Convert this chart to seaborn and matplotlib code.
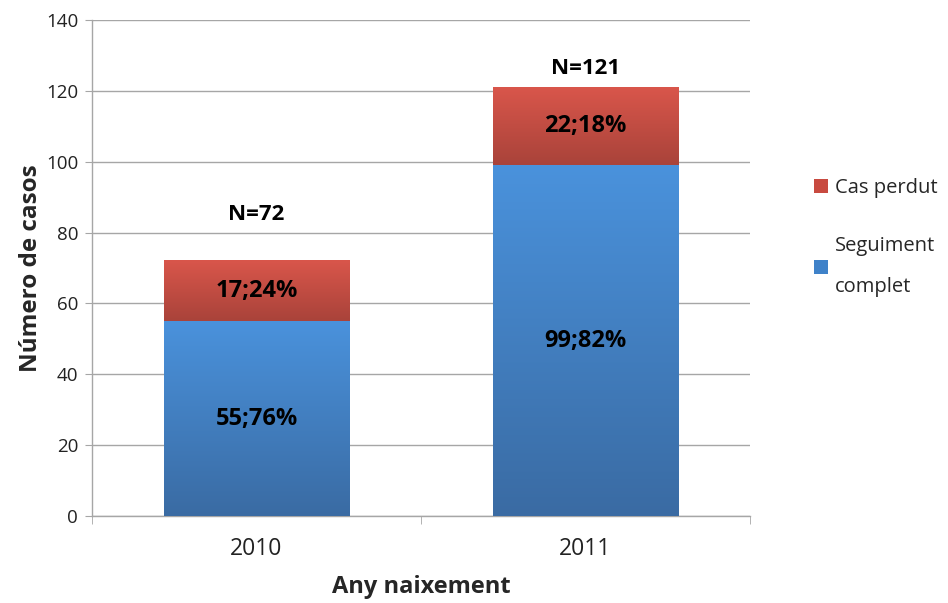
import numpy as np
import pandas as pd
import matplotlib
matplotlib.use("Agg")
import matplotlib.pyplot as plt
import seaborn as sns
from matplotlib.colors import LinearSegmentedColormap
from matplotlib.patches import Patch

# dades
anys = ["2010", "2011"]
seguiment = [55, 99]
perdut = [17, 22]
pct_seguiment = [76, 82]
pct_perdut = [24, 18]
totals = [72, 121]

sns.set_style("white")
plt.rcParams['font.family'] = ['Open Sans', 'DejaVu Sans']

df = pd.DataFrame({"any": anys, "seguiment": seguiment, "perdut": perdut,
                   "total": totals})

fig = plt.figure(figsize=(9.48, 6.03), dpi=100)
ax = fig.add_axes([92 / 948, 1 - 516 / 603, (750 - 92) / 948, (516 - 20) / 603])

# total (vermell) primer, després el blau a sobre
sns.barplot(data=df, x="any", y="total", color="#d0493f", width=0.565,
            ax=ax, saturation=1, zorder=3)
sns.barplot(data=df, x="any", y="seguiment", color="#4186cf", width=0.565,
            ax=ax, saturation=1, zorder=3)

# degradat tipus Excel dins de cada barra
blue_cmap = LinearSegmentedColormap.from_list("b", ["#3a6ba3", "#4a92dc"])
red_cmap = LinearSegmentedColormap.from_list("r", ["#a9433a", "#d9564b"])
n = len(anys)
grad = np.linspace(0, 1, 256).reshape(-1, 1)
for i, p in enumerate(ax.patches):
    cmap = red_cmap if i < n else blue_cmap
    x0, y0 = p.get_x(), p.get_y()
    w, h = p.get_width(), p.get_height()
    if i < n:
        y0 = seguiment[i]
        h = perdut[i]
    p.set_alpha(0)
    ax.imshow(grad, extent=(x0, x0 + w, y0, y0 + h), origin="lower",
              cmap=cmap, aspect="auto", zorder=4)

ax.set_xlim(-0.5, 1.5)
ax.set_ylim(0, 140)
ax.set_yticks(np.arange(0, 141, 20))
ax.yaxis.grid(True, color="#a6a6a6", linewidth=1)
ax.set_axisbelow(True)

# etiquetes de valor
for i in range(n):
    ax.text(i, seguiment[i] / 2, f"{seguiment[i]};{pct_seguiment[i]}%",
            ha="center", va="center", fontsize=17, fontweight="bold",
            color="black", zorder=6)
    ax.text(i, seguiment[i] + perdut[i] / 2, f"{perdut[i]};{pct_perdut[i]}%",
            ha="center", va="center", fontsize=17, fontweight="bold",
            color="black", zorder=6)
n_label_y = [85, 126.3]
for i in range(n):
    ax.text(i, n_label_y[i], f"N={totals[i]}", ha="center", va="center",
            fontsize=16, fontweight="bold", color="black", zorder=6)

# eixos
for s in ["top", "right"]:
    ax.spines[s].set_visible(False)
for s in ["left", "bottom"]:
    ax.spines[s].set_color("#a6a6a6")
    ax.spines[s].set_linewidth(1)

ax.tick_params(axis="y", length=5, color="#a6a6a6", labelsize=13.5, pad=5,
               left=True, labelcolor="#222222")
ax.tick_params(axis="x", length=0, labelsize=16.5, pad=15, labelcolor="#222222")
ax.set_xticks([-0.5, 0.5, 1.5], minor=True)
ax.tick_params(axis="x", which="minor", length=6, color="#a6a6a6", bottom=True)

ax.set_xlabel("Any naixement", fontsize=17, fontweight="bold", labelpad=10)
ax.set_ylabel("Número de casos", fontsize=17.5, fontweight="bold", labelpad=2)

handles = [Patch(facecolor="#c84a40", edgecolor="none"),
           Patch(facecolor="#3f82c9", edgecolor="none")]
leg = fig.legend(handles, ["Cas perdut", "Seguiment\ncomplet"],
                 loc="upper left", bbox_to_anchor=(796 / 948, 1 - 160 / 603),
                 frameon=False, fontsize=14.5, handlelength=0.7,
                 handleheight=0.7, handletextpad=0.35, labelspacing=1.9)
for t in leg.get_texts():
    t.set_linespacing(2.4)

fig.savefig("out.png", dpi=100)
